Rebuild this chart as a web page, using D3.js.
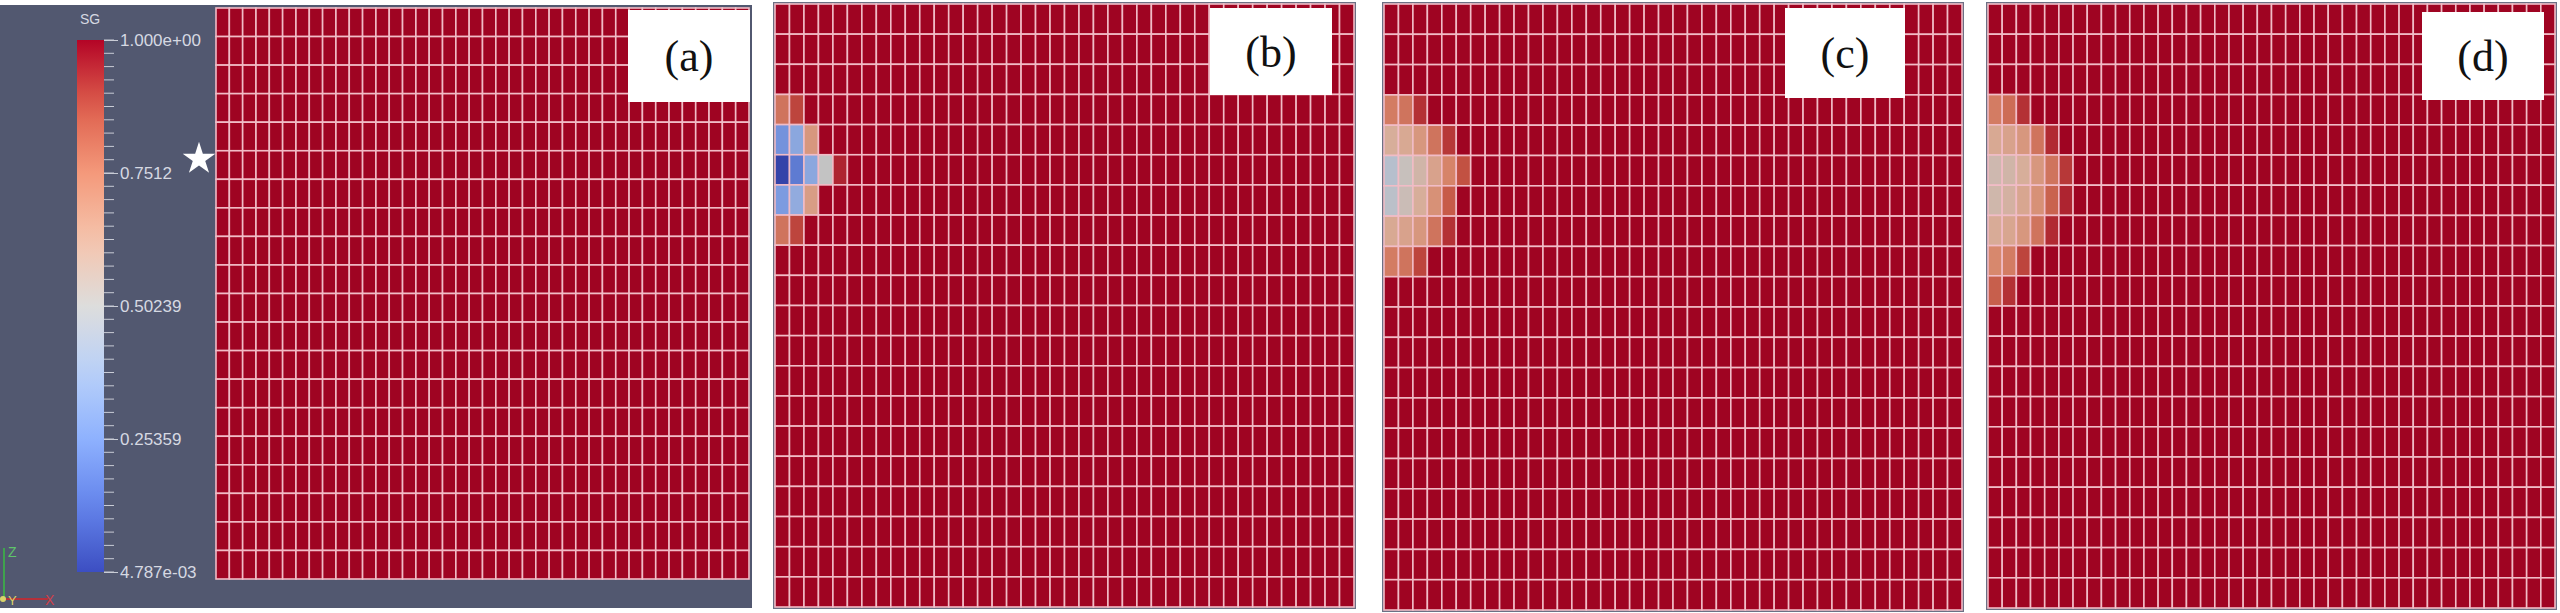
<!DOCTYPE html>
<html>
<head>
<meta charset="utf-8">
<script src="https://cdn.jsdelivr.net/npm/d3@7"></script>
<style>
  body { margin: 0; background: #fff; }
  svg { display: block; }
</style>
</head>
<body>
<div id="chart"></div>
<script>
// grid size of every snapshot
var nCols = 40, nRows = 20;

var panelLabels = ["(a)", "(b)", "(c)", "(d)"];

// colour bar
var sgMin = 0.004787, sgMax = 1.0;
var barTicks = [1.0, 0.7512, 0.50239, 0.25359, 0.004787];
var barTickLabels = ["1.000e+00", "0.7512", "0.50239", "0.25359", "4.787e-03"];

// SG plume per snapshot: [row, values from column 0 outward]; every other cell is 1.0
var plumeA = [];
var plumeB = [
    [3, [0.80, 0.90]],
    [4, [0.22, 0.30, 0.70]],
    [5, [0.00, 0.15, 0.30, 0.50, 0.95]],
    [6, [0.25, 0.32, 0.68]],
    [7, [0.80, 0.90]]
];
var plumeC = [
    [3, [0.78, 0.80, 0.93]],
    [4, [0.62, 0.64, 0.70, 0.80, 0.92]],
    [5, [0.45, 0.52, 0.58, 0.66, 0.76, 0.88]],
    [6, [0.47, 0.54, 0.62, 0.72, 0.86]],
    [7, [0.64, 0.66, 0.70, 0.80, 0.93]],
    [8, [0.78, 0.80, 0.90]]
];
var plumeD = [
    [3, [0.78, 0.82, 0.93]],
    [4, [0.64, 0.66, 0.70, 0.80, 0.94]],
    [5, [0.56, 0.58, 0.62, 0.70, 0.80, 0.92]],
    [6, [0.57, 0.60, 0.65, 0.72, 0.84, 0.95]],
    [7, [0.63, 0.65, 0.70, 0.80, 0.94]],
    [8, [0.75, 0.78, 0.90]],
    [9, [0.85, 0.93]]
];

var width = 2560, height = 613;
var svg = d3.select("#chart").append("svg")
    .attr("width", width)
    .attr("height", height)
    .style("font-family", "Liberation Sans, Arial, sans-serif");

svg.append("rect").attr("width", width).attr("height", height).attr("fill", "#fff");

// paraview cool to warm
var color = d3.scaleLinear()
    .domain([0, 0.125, 0.25, 0.375, 0.5, 0.625, 0.75, 0.875, 1])
    .range(["#3b4cc0", "#6282ea", "#8db0fe", "#b8d0f9", "#dddddd",
            "#f5c4ad", "#f49a7b", "#de604d", "#b40426"]);

// panel boxes (grid area)
var panels = [
    {x: 216, y: 8, w: 533, h: 571, plume: plumeA, box: [628, 10, 122, 92]},
    {x: 775, y: 4, w: 579, h: 603, plume: plumeB, box: [1210, 8, 122, 87]},
    {x: 1384, y: 4, w: 578, h: 606, plume: plumeC, box: [1785, 8, 120, 90]},
    {x: 1988, y: 4, w: 567, h: 604, plume: plumeD, box: [2422, 12, 122, 88]}
];

// panel (a) background
svg.append("rect")
    .attr("x", 0).attr("y", 5)
    .attr("width", 752).attr("height", 603)
    .attr("fill", "#525870");

panels.forEach(function(p, i) {
    var cells = [];
    for (var r = 0; r < nRows; r++)
        for (var c = 0; c < nCols; c++)
            cells.push({r: r, c: c, v: 1.0});
    p.plume.forEach(function(row) {
        row[1].forEach(function(v, c) { cells[row[0] * nCols + c].v = v; });
    });

    var x = d3.scaleBand().domain(d3.range(nCols)).range([p.x, p.x + p.w]);
    var y = d3.scaleBand().domain(d3.range(nRows)).range([p.y, p.y + p.h]);

    var g = svg.append("g");
    if (i > 0) {
        g.append("rect")
            .attr("x", p.x - 2).attr("y", p.y - 2)
            .attr("width", p.w + 4).attr("height", p.h + 4)
            .attr("fill", "#6c7084");
    }
    g.selectAll("rect.cell")
        .data(cells)
        .enter()
        .append("rect")
        .attr("class", "cell")
        .attr("x", d => x(d.c))
        .attr("y", d => y(d.r))
        .attr("width", x.bandwidth())
        .attr("height", y.bandwidth())
        .attr("fill", d => d3.color(color(d.v)).darker(0.35))
        .attr("stroke", "#f1bcc6")
        .attr("stroke-width", 1.6);

    var b = p.box;
    g.append("rect")
        .attr("x", b[0]).attr("y", b[1])
        .attr("width", b[2]).attr("height", b[3])
        .attr("fill", "#fff");
    g.append("text")
        .attr("x", b[0] + b[2] / 2)
        .attr("y", b[1] + b[3] / 2 + 15)
        .attr("text-anchor", "middle")
        .style("font-family", "Liberation Serif, Times New Roman, serif")
        .style("font-size", "44px")
        .attr("fill", "#111")
        .text(panelLabels[i]);
});

// colour bar
var yBar = d3.scaleLinear().domain([sgMin, sgMax]).range([572, 40]);
var defs = svg.append("defs");
var grad = defs.append("linearGradient")
    .attr("id", "sgGrad")
    .attr("x1", 0).attr("y1", 1).attr("x2", 0).attr("y2", 0);
grad.selectAll("stop")
    .data(d3.range(0, 1.0001, 0.05))
    .enter().append("stop")
    .attr("offset", d => d)
    .attr("stop-color", d => color(sgMin + d * (sgMax - sgMin)));

svg.append("rect")
    .attr("x", 77).attr("y", yBar(sgMax))
    .attr("width", 27).attr("height", yBar(sgMin) - yBar(sgMax))
    .attr("fill", "url(#sgGrad)");

var minor = d3.range(41).map(k => sgMin + k * (sgMax - sgMin) / 40);
svg.append("g").selectAll("line")
    .data(minor)
    .enter().append("line")
    .attr("x1", 104).attr("x2", 114)
    .attr("y1", d => yBar(d)).attr("y2", d => yBar(d))
    .attr("stroke", "#c9ccd6").attr("stroke-width", 1);

var axis = d3.axisRight(yBar)
    .tickValues(barTicks)
    .tickSize(14)
    .tickPadding(2)
    .tickFormat((d, i) => barTickLabels[i]);
var ax = svg.append("g").attr("transform", "translate(104,0)").call(axis);
ax.select(".domain").remove();
ax.selectAll("line").attr("stroke", "#c9ccd6");
ax.selectAll("text")
    .attr("fill", "#d6d9e2")
    .style("font-size", "17px")
    .style("font-family", "Liberation Sans Narrow, Liberation Sans, Arial, sans-serif");

svg.append("text")
    .attr("x", 90).attr("y", 24)
    .attr("text-anchor", "middle")
    .attr("fill", "#d6d9e2")
    .style("font-size", "14px")
    .text("SG");

// injection point
svg.append("path")
    .attr("d", d3.symbol(d3.symbolStar).size(330)())
    .attr("transform", "translate(199,159)")
    .attr("fill", "#fff");

// orientation triad
var triad = svg.append("g");
triad.append("line").attr("x1", 4).attr("x2", 4).attr("y1", 598).attr("y2", 548)
    .attr("stroke", "#3fa34d").attr("stroke-width", 2);
triad.append("line").attr("x1", 4).attr("x2", 48).attr("y1", 599).attr("y2", 599)
    .attr("stroke", "#b5303a").attr("stroke-width", 2);
triad.append("circle").attr("cx", 3).attr("cy", 599).attr("r", 3).attr("fill", "#d9d36a");
triad.append("text").attr("x", 8).attr("y", 557).attr("fill", "#5fc46a")
    .style("font-size", "14px").text("Z");
triad.append("text").attr("x", 8).attr("y", 605).attr("fill", "#d9d36a")
    .style("font-size", "13px").text("Y");
triad.append("text").attr("x", 45).attr("y", 605).attr("fill", "#d0404a")
    .style("font-size", "14px").text("X");
</script>
</body>
</html>
